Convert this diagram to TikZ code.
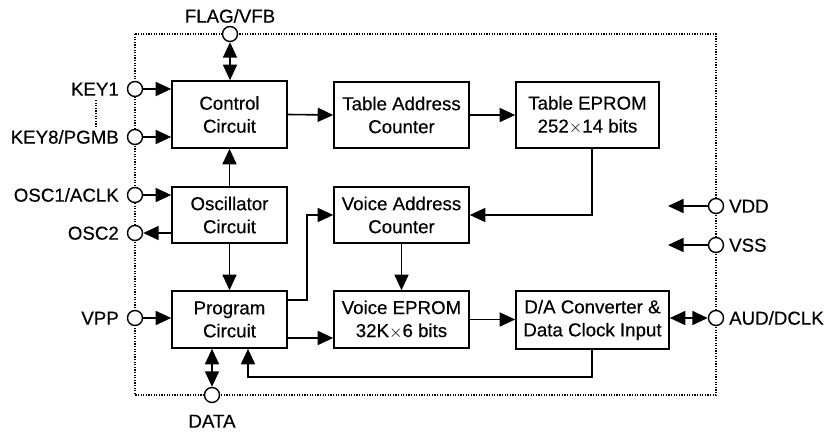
\documentclass[tikz,border=0pt]{standalone}
\usepackage{fontspec}
\setmainfont{Liberation Sans}[FakeBold=0.35]
\usetikzlibrary{arrows.meta}
\tikzset{
  txt/.style={font=\fontsize{18.7}{23}\selectfont\addfontfeature{FakeBold=0.35}},
  blk/.style={draw, line width=1.6pt, rectangle, inner sep=0pt, align=center, txt},
  pinc/.style={draw, circle, line width=1.4pt, fill=white, minimum size=15pt, inner sep=0pt},
  pinlbl/.style={inner sep=0pt, text height=13.3pt, text depth=0pt, txt},
  wire/.style={line width=1.6pt},
  arr/.style={wire, -{Triangle[length=15.5pt,width=14pt]}},
  darr/.style={wire, {Triangle[length=15.5pt,width=14pt]}-{Triangle[length=15.5pt,width=14pt]}},
  chipedge/.style={line width=1.2pt, dash pattern=on 1.2pt off 1.4pt},
}
\begin{document}
\begin{tikzpicture}[x=1pt,y=-1pt]
\useasboundingbox (0,0) rectangle (827,436);

% package outline
\draw[chipedge] (135,34) rectangle (716,395);

% functional blocks
\node[blk, minimum width=115pt, minimum height=67pt] (ctrl) at (229.5,114.5) {Control\\Circuit};
\node[blk, minimum width=115pt, minimum height=56pt] (osc)  at (229.5,215)   {Oscillator\\Circuit};
\node[blk, minimum width=115pt, minimum height=57pt] (prog) at (229.5,319.5) {Program\\Circuit};
\node[blk, minimum width=135pt, minimum height=66pt] (tac)  at (401.5,115)   {Table Address\\Counter};
\node[blk, minimum width=143pt, minimum height=66pt] (tep)  at (587.5,115)   {Table EPROM\\252$\times$14 bits};
\node[blk, minimum width=135pt, minimum height=56pt] (vac)  at (401.5,215)   {Voice Address\\Counter};
\node[blk, minimum width=135pt, minimum height=57pt] (vep)  at (401.5,319.5) {Voice EPROM\\32K$\times$6 bits};
\node[blk, minimum width=153pt, minimum height=58pt] (da)   at (592.5,320)   {D/A Converter \&\\Data Clock Input};

% pins
\node[pinc] (k1)   at (135,89)  {};
\node[pinc] (k8)   at (135,137) {};
\node[pinc] (osc1) at (135,195) {};
\node[pinc] (osc2) at (135,233) {};
\node[pinc] (vpp)  at (135,318) {};
\node[pinc] (flag) at (230,34)  {};
\node[pinc] (data) at (212,395) {};
\node[pinc] (vdd)  at (716,206) {};
\node[pinc] (vss)  at (716,245) {};
\node[pinc] (aud)  at (716,318) {};

% pin names
\node[pinlbl, anchor=east]  (k1l)   at (119,89)  {KEY1};
\node[pinlbl, anchor=east]  (k8l)   at (119,137) {KEY8/PGMB};
\node[pinlbl, anchor=east]  (osc1l) at (119,195) {OSC1/ACLK};
\node[pinlbl, anchor=east]  (osc2l) at (119,233) {OSC2};
\node[pinlbl, anchor=east]  (vppl)  at (119,318) {VPP};
\node[pinlbl]               (flagl) at (230,16)  {FLAG/VFB};
\node[pinlbl]               (datal) at (212,421) {DATA};
\node[pinlbl, anchor=west]  (vddl)  at (729,206) {VDD};
\node[pinlbl, anchor=west]  (vssl)  at (729,245) {VSS};
\node[pinlbl, anchor=west]  (audl)  at (729,318) {AUD/DCLK};

% KEY1 ... KEY8 range mark
\coordinate (kt) at (96,100);
\coordinate (kb) at (96,128);
\draw[chipedge] (kt) -- (kb);

% pin connections
\draw[arr]  (k1)   -- (ctrl.west |- k1);
\draw[arr]  (k8)   -- (ctrl.west |- k8);
\draw[arr]  (osc1) -- (osc.west |- osc1);
\draw[arr]  (osc.west |- osc2) -- (osc2);
\draw[arr]  (vpp)  -- (prog.west |- vpp);
\draw[darr] (flag) -- (ctrl.north -| flag);
\draw[darr] (data) -- (prog.south -| data);
\draw[darr] (da.east |- aud) -- (aud);
\coordinate (vddend) at (668,206);
\coordinate (vssend) at (668,245);
\draw[arr] (vdd) -- (vddend);
\draw[arr] (vss) -- (vssend);

% internal signal paths
\draw[arr] (osc.north) -- (ctrl.south);
\draw[arr] (osc.south) -- (prog.north);
\draw[arr] (ctrl.east) -- (tac.west);
\draw[arr] (tac.east) -- (tep.west);
\coordinate (tepout) at (592,148);
\draw[arr] (tep.south -| tepout) |- (vac.east);
\coordinate (pbr) at (307,300);
\draw[arr] (prog.east |- pbr) -- (pbr) |- (vac.west);
\draw[arr] (vac.south) -- (vep.north);
\coordinate (pv) at (300,338);
\draw[arr] (prog.east |- pv) -- (vep.west |- pv);
\draw[arr] (vep.east) -- (da.west |- vep.east);
\coordinate (fb)  at (592,377);
\coordinate (fb2) at (248,377);
\draw[arr] (da.south -| fb) -- (fb) -- (fb2) -- (prog.south -| fb2);
\end{tikzpicture}
\end{document}
